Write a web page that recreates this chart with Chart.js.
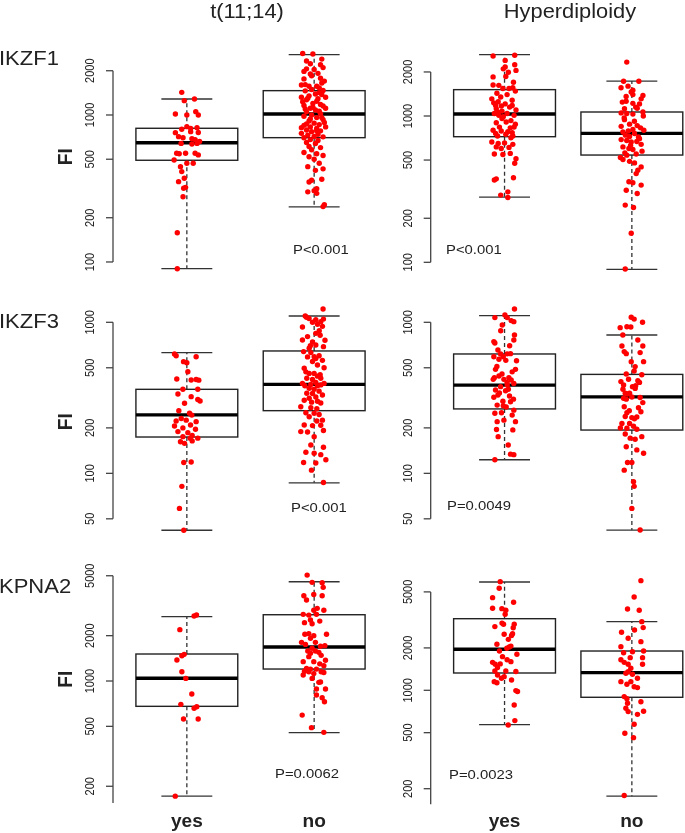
<!DOCTYPE html>
<html>
<head>
<meta charset="utf-8">
<script src="https://cdn.jsdelivr.net/npm/chart.js@4.4.0/dist/chart.umd.min.js"></script>
<style>
  html, body { margin: 0; padding: 0; background: #fff; width: 685px; height: 833px; overflow: hidden; position: relative; }
  canvas { position: absolute; }
</style>
</head>
<body>
<script>
// labels
const genes = ['IKZF1', 'IKZF3', 'KPNA2'];
const factors = ['t(11;14)', 'Hyperdiploidy'];
const groups = ['yes', 'no'];
const pValues = ['P<0.001', 'P<0.001', 'P<0.001', 'P=0.0049', 'P=0.0062', 'P=0.0023'];

// log axis ticks per row, and y range per panel
const rowTicks = [[100, 200, 500, 1000, 2000], [50, 100, 200, 500, 1000], [200, 500, 1000, 2000, 5000]];
const axisEnds = [[100, 2000], [50, 1000], [155, 5000]];
const yLimits = [[75.4, 3786], [75.7, 3871], [36.2, 1405], [36.2, 1405], [150.2, 6361], [153.2, 8423]];

// box stats per panel: [lower whisker, q1, median, q3, upper whisker] for yes / no
const boxIkzf1Trans = [[90, 492, 648, 812, 1285], [237, 701, 1016, 1464, 2573]];
const boxIkzf1Hyper = [[279, 722, 1032, 1514, 2626], [89.6, 541, 761, 1065, 1734]];
const boxIkzf3Trans = [[42, 174, 244, 360, 629], [86.6, 260, 388, 646, 1101]];
const boxIkzf3Hyper = [[123, 267, 384, 617, 1106], [42.1, 193.5, 321, 452, 824]];
const boxKpna2Trans = [[172, 679, 1042, 1511, 2673], [454, 1201, 1682, 2755, 4563]];
const boxKpna2Hyper = [[570, 1327, 1955, 3225, 5876], [177, 892, 1334, 1901, 3070]];

// individual samples: [jitter offset, FI]
const ikzf1TransYes = [[-0.04,1426],[-0.02,1252],[0.06,1285],[-0.09,1016],[0.0,1000],[0.07,1054],[0.09,1000],[0.0,833],[0.03,811],[0.08,820],[-0.04,800],[-0.09,758],[-0.065,712],[0.03,770],[0.09,760],[-0.03,700],[0.04,690],[0.065,680],[-0.045,641],[0.04,635],[0.1,660],[0.08,641],[-0.08,549],[-0.06,545],[-0.01,549],[0.065,549],[0.09,535],[-0.1,494],[0.0,469],[0.05,469],[-0.05,445],[-0.04,412],[-0.065,352],[-0.02,371],[-0.025,317],[-0.01,322],[-0.03,278],[-0.075,158],[-0.075,90]];
const ikzf1TransNo = [[-0.09,2620],[-0.01,2600],[0.06,2400],[-0.06,2330],[-0.03,2230],[0.07,2100],[-0.06,2060],[0,2040],[0.03,1920],[-0.03,1900],[0.05,1780],[-0.08,1760],[0.06,1650],[-0.1,1600],[-0.04,1570],[0.02,1570],[-0.02,1490],[0.07,1470],[-0.07,1460],[0.04,1420],[0.01,1390],[-0.04,1350],[-0.1,1320],[0.09,1320],[-0.06,1270],[0.02,1240],[-0.01,1200],[0.05,1180],[-0.08,1160],[-0.03,1110],[0.09,1110],[0.01,1080],[-0.06,1050],[0.05,1020],[-0.02,1000],[-0.08,980],[0.02,960],[0.07,930],[-0.04,910],[0,880],[0.04,860],[-0.08,850],[-0.03,830],[0.09,830],[0.02,810],[-0.06,790],[0.05,780],[-0.02,770],[-0.1,750],[0.03,740],[-0.05,730],[0,715],[0.07,710],[-0.08,700],[-0.03,680],[0.03,670],[-0.06,650],[0.01,640],[-0.04,610],[0.05,600],[-0.02,580],[-0.08,555],[0.02,545],[0.07,530],[-0.04,520],[0,500],[0.04,470],[-0.05,445],[0.07,430],[0.01,420],[-0.02,360],[0.06,365],[-0.04,350],[0.02,315],[-0.05,300],[0.02,293],[0,305],[0.08,245],[0.07,238],[0.04,1530],[-0.07,1610],[0.08,1700],[-0.02,1850],[0.05,2200],[-0.08,1980],[0.06,1380],[-0.05,1300],[0.03,1290],[-0.09,1230],[0.07,1150],[-0.01,1130],[0.04,1060],[-0.07,1100],[0.06,960],[-0.03,940],[0.08,890],[-0.06,870],[0.02,780],[-0.1,820]];
const ikzf1HyperYes = [[-0.09,2570],[0.005,2400],[0.08,2600],[0.08,2240],[-0.01,2100],[0.005,2160],[0.03,1990],[0.09,2050],[0.01,1860],[-0.09,1850],[0.07,1700],[-0.09,1630],[-0.045,1620],[-0.013,1540],[0.035,1540],[0.065,1560],[0.085,1480],[-0.06,1430],[-0.1,1310],[-0.05,1250],[-0.07,1180],[-0.025,1170],[0.005,1210],[-0.065,1120],[-0.02,1080],[-0.08,1040],[-0.045,1010],[-0.01,990],[0.075,1010],[0.05,930],[-0.065,900],[0.013,910],[-0.04,840],[0.045,830],[0.075,840],[0.026,780],[-0.07,760],[-0.026,790],[0.065,730],[0.05,710],[-0.1,665],[-0.05,650],[0,655],[-0.065,615],[-0.026,600],[0.035,610],[0.065,640],[-0.08,550],[-0.013,545],[0.045,555],[0.09,510],[0.08,475],[-0.08,365],[-0.065,372],[0.07,378],[-0.03,288],[0.026,303],[0.026,277],[0.02,1400],[-0.03,1350],[0.06,1280],[-0.085,1230],[0.04,1150],[0.09,1100],[-0.05,1060],[0.02,1040],[0.06,1180],[-0.02,960],[0.085,880],[-0.09,800],[0.01,750],[-0.055,730],[0.06,770]];
const ikzf1HyperNo = [[-0.04,2335],[-0.065,1730],[0.055,1730],[-0.085,1560],[0.008,1500],[-0.005,1460],[0.087,1380],[-0.045,1360],[0.008,1400],[0.073,1310],[-0.075,1245],[-0.045,1260],[0.008,1220],[0.06,1210],[-0.058,1120],[0.042,1130],[0.087,1065],[-0.084,1050],[-0.04,1040],[0.008,1030],[0.09,1000],[-0.058,944],[-0.018,880],[-0.084,850],[0.042,860],[0.068,830],[0.094,800],[0.008,810],[-0.028,790],[-0.07,778],[-0.05,740],[-0.018,725],[0.021,760],[0.052,719],[-0.084,690],[-0.04,680],[-0.005,665],[0.039,670],[0.073,640],[-0.07,615],[-0.023,600],[0.008,590],[-0.055,560],[-0.04,540],[0.034,550],[-0.07,504],[-0.018,490],[0.021,478],[0.073,449],[0.047,426],[0.034,404],[-0.023,355],[0.008,350],[0.073,337],[-0.044,311],[0.042,295],[-0.052,246],[0.013,237],[-0.005,158],[-0.052,90],[0.02,920],[-0.06,970],[0.06,700],[-0.01,630],[0.08,575],[-0.09,520],[0.03,1150],[-0.03,1600]];
const ikzf3TransYes = [[-0.097,617],[-0.084,600],[-0.026,549],[0,540],[0.073,592],[0.008,471],[-0.079,421],[0.034,415],[0.073,418],[0.094,414],[-0.031,360],[0.086,360],[-0.07,335],[0.034,322],[0.086,308],[0.104,301],[-0.018,291],[-0.063,260],[0.021,250],[0.039,243],[-0.044,231],[-0.005,225],[0.073,220],[-0.084,222],[0.029,209],[-0.097,206],[-0.031,200],[0.068,196],[-0.07,189],[0.008,186],[0.042,178],[0.086,171],[-0.031,175],[0.026,171],[-0.05,162],[-0.018,158],[0.042,164],[-0.024,118],[0.034,119],[-0.039,82],[-0.058,58.6],[-0.024,42]];
const ikzf3TransNo = [[0.07,1225],[-0.07,1101],[-0.04,1060],[0.013,1040],[0.052,1010],[0.073,1050],[-0.013,1000],[-0.092,930],[0.026,970],[0.065,940],[0.013,845],[-0.052,804],[0.047,820],[-0.092,763],[-0.013,740],[0.013,708],[-0.039,673],[0.073,690],[-0.083,640],[-0.026,630],[0,592],[0.039,600],[-0.052,590],[0.013,575],[0.065,560],[-0.013,550],[0.026,522],[-0.078,496],[0.078,500],[0,459],[0.047,450],[-0.039,459],[-0.065,470],[0.026,440],[0.052,426],[-0.058,426],[-0.013,418],[0.013,400],[-0.092,394],[0.078,394],[-0.026,388],[-0.073,380],[0.026,380],[0.052,385],[-0.039,366],[0,360],[0.039,350],[-0.058,339],[-0.013,338],[0.065,330],[0.013,320],[-0.039,314],[-0.078,305],[0.026,300],[0.052,292],[-0.02,296],[-0.105,276],[-0.026,272],[0.021,268],[-0.065,252],[0,250],[0.039,245],[-0.039,237],[0.065,225],[0.021,222],[-0.078,209],[-0.013,207],[0.052,208],[-0.105,189],[-0.052,188],[0.073,192],[0,175],[-0.026,154],[0.073,149],[0,136],[0.052,133],[-0.065,138],[-0.083,118],[0.013,117],[0.092,123],[-0.021,105],[0.073,87],[0.04,880],[-0.06,1080],[0.085,760],[-0.03,700]];
const ikzf3HyperYes = [[0.078,1225],[0.003,1118],[0.021,1074],[-0.076,1074],[-0.018,960],[0.052,1026],[0.073,1010],[0.078,824],[0.073,763],[-0.084,745],[-0.076,730],[-0.052,656],[-0.031,617],[0.047,620],[0.021,618],[-0.084,592],[-0.01,592],[-0.044,570],[0.094,557],[-0.071,488],[0.086,488],[-0.044,441],[0.034,430],[-0.089,419],[-0.005,419],[0.052,415],[0.073,394],[0.021,385],[-0.031,375],[-0.071,356],[0.008,352],[-0.052,330],[0.039,325],[-0.084,319],[-0.013,300],[0.047,298],[-0.058,283],[0.013,275],[0.073,262],[-0.024,252],[-0.076,250],[0.06,243],[-0.005,225],[-0.058,220],[0.086,220],[0.065,194],[-0.063,195],[-0.05,175],[0.029,154],[0.047,134],[0.073,133],[-0.076,123],[0.01,560],[-0.06,510],[0.06,470],[-0.02,455],[0.04,700],[-0.03,880],[0.02,400],[-0.08,430],[0.03,360],[-0.04,340],[0.07,310],[-0.01,280]];
const ikzf3HyperNo = [[-0.005,1080],[0.018,1050],[0.084,1000],[-0.092,922],[-0.039,935],[-0.008,930],[-0.071,824],[0.047,763],[-0.078,697],[0.086,697],[-0.06,640],[0.065,630],[-0.044,620],[-0.005,549],[0.092,549],[0.026,509],[0.018,476],[-0.044,455],[0.078,450],[-0.026,420],[0.047,410],[-0.086,405],[-0.065,385],[0.005,375],[0.026,365],[-0.052,339],[-0.034,335],[-0.018,339],[-0.065,314],[0,320],[-0.044,310],[0.065,318],[0.086,294],[-0.06,276],[0.052,272],[0.071,256],[-0.039,252],[-0.052,238],[0,234],[0.039,236],[-0.078,214],[-0.018,214],[0.013,205],[-0.039,199],[0.039,196],[-0.052,182],[-0.013,171],[0.026,168],[0.078,175],[-0.044,150],[0.039,143],[0.092,136],[-0.034,118],[0,118],[-0.06,105],[0.013,88],[0.018,82],[0,58.6],[0.065,42.2],[0.03,380],[-0.07,360],[0.06,400],[-0.02,260],[0.02,230],[-0.09,200]];
const kpna2TransYes = [[0.076,2743],[0.057,2700],[-0.055,2193],[-0.021,1503],[-0.039,1470],[-0.078,1379],[-0.039,1153],[-0.008,1041],[0.039,820],[-0.047,700],[0.078,675],[0.057,660],[-0.026,560],[0.089,560],[-0.091,172]];
const kpna2TransNo = [[-0.055,5050],[-0.016,4520],[0.063,4500],[0.071,4188],[-0.081,3686],[-0.003,3750],[0.063,3686],[-0.06,3451],[0.024,3038],[-0.003,2950],[0.076,2950],[-0.086,2771],[-0.042,2740],[0.018,2771],[-0.029,2541],[0.044,2500],[-0.076,2440],[-0.016,2400],[-0.073,2042],[-0.042,2060],[-0.003,2000],[0.097,2042],[-0.029,1920],[-0.099,1806],[0.01,1806],[0.084,1717],[0.05,1700],[-0.068,1750],[-0.016,1650],[-0.05,1582],[0.01,1582],[-0.029,1530],[0.037,1550],[-0.042,1451],[0.055,1480],[0.089,1372],[-0.086,1344],[-0.003,1344],[0.044,1300],[0.076,1264],[-0.06,1214],[-0.029,1200],[0.018,1200],[0.055,1153],[-0.076,1160],[0.076,1140],[-0.042,1150],[-0.003,1120],[-0.086,1096],[-0.016,1041],[0.037,980],[0.05,985],[0.018,885],[0.089,885],[0.018,807],[0.063,775],[0.081,729],[-0.094,594],[-0.021,490],[0.076,456]];
const kpna2HyperYes = [[-0.034,5912],[-0.042,5302],[-0.094,4552],[0.071,4217],[-0.094,3822],[-0.021,3800],[0.01,3700],[0.005,3465],[-0.076,2833],[-0.008,2942],[0.076,2942],[0.068,2780],[-0.003,2499],[0.063,2520],[0.055,2450],[-0.06,2121],[0.05,2060],[0.037,2030],[0.018,1989],[0.097,1802],[-0.016,1734],[0.05,1598],[-0.094,1580],[-0.073,1530],[-0.034,1540],[-0.055,1450],[-0.076,1372],[0.01,1372],[0.089,1360],[-0.055,1285],[-0.003,1250],[-0.024,1217],[0.055,1184],[-0.081,1152],[-0.06,1130],[0.089,995],[0.102,980],[0.076,787],[0.081,609],[0.029,567],[0.03,2300],[-0.04,1900],[0.02,1650],[-0.02,3000]];
const kpna2HyperNo = [[0.071,6010],[0.018,4600],[-0.034,3783],[0.058,3700],[0.078,3074],[0.089,2787],[0.021,2680],[-0.081,2583],[-0.029,2341],[0.071,2216],[-0.086,2042],[0.092,1903],[-0.065,1850],[0.005,1880],[-0.013,1706],[0.084,1706],[-0.086,1650],[-0.06,1580],[-0.029,1530],[0.084,1530],[-0.008,1433],[-0.029,1357],[-0.047,1320],[0.005,1299],[0.044,1217],[-0.086,1152],[-0.008,1152],[-0.039,1103],[0.018,1060],[0.044,1045],[-0.06,902],[-0.039,870],[-0.034,809],[0.071,830],[-0.047,745],[-0.029,706],[0.092,710],[0.044,675],[0.018,574],[-0.055,495],[0.013,461],[-0.06,179]];

const boxesByPanel = [boxIkzf1Trans, boxIkzf1Hyper, boxIkzf3Trans, boxIkzf3Hyper, boxKpna2Trans, boxKpna2Hyper];
const pointsByPanel = [
  [ikzf1TransYes, ikzf1TransNo], [ikzf1HyperYes, ikzf1HyperNo],
  [ikzf3TransYes, ikzf3TransNo], [ikzf3HyperYes, ikzf3HyperNo],
  [kpna2TransYes, kpna2TransNo], [kpna2HyperYes, kpna2HyperNo]
];

// page layout
const colLeft = [0, 340];
const colWidth = [400, 380];
const rowTop = [0, 290, 545];
const rowHeight = [290, 255, 288];
const padLeft = [113, 90.7];
const padRight = [12, 14.3];
const padTopBottom = [[30, 10], [10, 5], [15, 28]];

const fontFamily = '"Liberation Sans", Arial, sans-serif';
const ink = '#222';

function drawText(ctx, text, x, y, font, align, baseline, angle, stretch) {
  ctx.save();
  ctx.translate(x, y);
  ctx.scale(stretch, 1);
  if (angle) ctx.rotate(angle);
  ctx.font = font;
  ctx.fillStyle = ink;
  ctx.textAlign = align;
  ctx.textBaseline = baseline;
  ctx.fillText(text, 0, 0);
  ctx.restore();
}

function line(ctx, x1, y1, x2, y2) {
  ctx.beginPath();
  ctx.moveTo(x1, y1);
  ctx.lineTo(x2, y2);
  ctx.stroke();
}

const panelDeco = {
  id: 'panelDeco',
  beforeDatasetsDraw(chart, args, opts) {
    const i = opts.index;
    const row = Math.floor(i / 2);
    const col = i % 2;
    const { ctx, chartArea } = chart;
    const xs = chart.scales.x;
    const ys = chart.scales.y;

    ctx.save();
    ctx.lineCap = 'butt';

    // y axis
    const ax = chartArea.left;
    ctx.strokeStyle = '#444';
    ctx.lineWidth = 1.3;
    line(ctx, ax, ys.getPixelForValue(axisEnds[row][0]), ax, ys.getPixelForValue(axisEnds[row][1]));
    rowTicks[row].forEach((t) => {
      const y = ys.getPixelForValue(t);
      line(ctx, ax - 7, y, ax, y);
      drawText(ctx, String(t), ax - 22, y, '11px ' + fontFamily, 'center', 'middle', -Math.PI / 2, 1.12);
    });

    // boxes
    boxesByPanel[i].forEach((s, g) => {
      const c = g + 1;
      const xc = xs.getPixelForValue(c);
      const xl = xs.getPixelForValue(c - 0.4);
      const xr = xs.getPixelForValue(c + 0.4);
      const cl = xs.getPixelForValue(c - 0.2);
      const cr = xs.getPixelForValue(c + 0.2);
      const [lo, q1, med, q3, hi] = s.map((v) => ys.getPixelForValue(v));
      ctx.strokeStyle = '#333';
      ctx.lineWidth = 1.3;
      ctx.setLineDash([4, 3]);
      line(ctx, xc, q3, xc, hi);
      line(ctx, xc, q1, xc, lo);
      ctx.setLineDash([]);
      line(ctx, cl, hi, cr, hi);
      line(ctx, cl, lo, cr, lo);
      ctx.strokeStyle = '#222';
      ctx.lineWidth = 1.4;
      ctx.strokeRect(xl, q3, xr - xl, q1 - q3);
      ctx.strokeStyle = '#000';
      ctx.lineWidth = 3.4;
      line(ctx, xl, med, xr, med);
    });

    // x group labels (bottom row)
    if (row === 2) {
      groups.forEach((lab, g) => {
        drawText(ctx, lab, xs.getPixelForValue(g + 1), 282, 'bold 18px ' + fontFamily, 'center', 'alphabetic', 0, 1.06);
      });
    }

    // texts placed in page coordinates
    ctx.translate(-colLeft[col], -rowTop[row]);
    if (row === 0) {
      drawText(ctx, factors[col], [247, 570][col], 18, '19.5px ' + fontFamily, 'center', 'alphabetic', 0, 1.12);
    }
    if (col === 0) {
      drawText(ctx, genes[row], -1, [65, 328, 593][row], '20px ' + fontFamily, 'left', 'alphabetic', 0, 1.1);
      drawText(ctx, 'FI', 66.5, [156.7, 421.7, 679.2][row], 'bold 19px ' + fontFamily, 'center', 'middle', -Math.PI / 2, 1.1);
    }
    const pX = [293, 446, 291, 447, 275, 449];
    const pY = [254, 254, 511.7, 510, 778.3, 779.3];
    drawText(ctx, pValues[i], pX[i], pY[i], '13.5px ' + fontFamily, 'left', 'alphabetic', 0, 1.1);
    ctx.restore();
  }
};

pointsByPanel.forEach((pair, i) => {
  const row = Math.floor(i / 2);
  const col = i % 2;
  const canvas = document.createElement('canvas');
  canvas.width = colWidth[col];
  canvas.height = rowHeight[row];
  canvas.style.left = colLeft[col] + 'px';
  canvas.style.top = rowTop[row] + 'px';
  document.body.appendChild(canvas);

  new Chart(canvas, {
    type: 'scatter',
    data: {
      datasets: pair.map((pts, g) => ({
        label: groups[g],
        data: pts.map(([dx, v]) => ({ x: g + 1 + dx, y: v })),
        pointRadius: 2.7,
        pointBorderWidth: 0,
        backgroundColor: '#ff0000',
        borderColor: '#ff0000'
      }))
    },
    options: {
      responsive: false,
      animation: false,
      layout: {
        padding: { left: padLeft[col], right: padRight[col], top: padTopBottom[row][0], bottom: padTopBottom[row][1] }
      },
      scales: {
        x: { type: 'linear', min: 0.42, max: 2.58, bounds: 'data', display: false },
        y: { type: 'logarithmic', min: yLimits[i][0], max: yLimits[i][1], bounds: 'data', display: false }
      },
      plugins: {
        legend: { display: false },
        tooltip: { enabled: false },
        panelDeco: { index: i }
      }
    },
    plugins: [panelDeco]
  });
});
</script>
</body>
</html>
